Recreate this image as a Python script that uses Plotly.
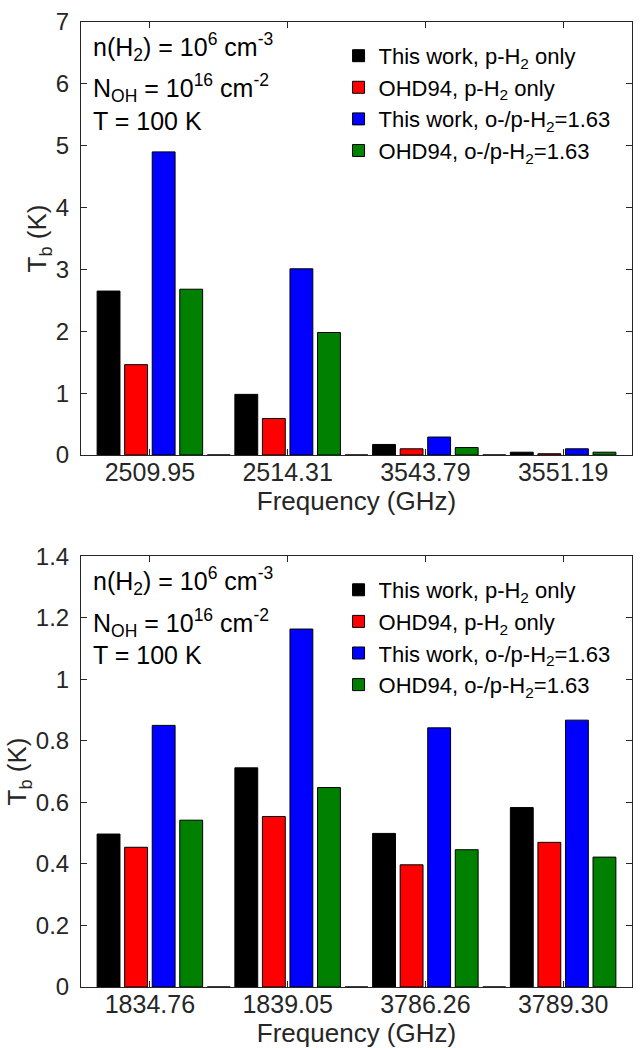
import plotly.graph_objects as go

# ---------------- data ----------------
series_names = [
    "This work, p-H<sub>2</sub> only",
    "OHD94, p-H<sub>2</sub> only",
    "This work, o-/p-H<sub>2</sub>=1.63",
    "OHD94, o-/p-H<sub>2</sub>=1.63",
]
series_colors = ["#000000", "#ff0000", "#0000ff", "#008000"]

top_freqs = ["2509.95", "2514.31", "3543.79", "3551.19"]
top_this_p = [2.65, 0.98, 0.17, 0.045]
top_ohd_p = [1.46, 0.59, 0.10, 0.02]
top_this_op = [4.90, 3.01, 0.29, 0.10]
top_ohd_op = [2.68, 1.98, 0.12, 0.045]

bot_freqs = ["1834.76", "1839.05", "3786.26", "3789.30"]
bot_this_p = [0.497, 0.712, 0.499, 0.583]
bot_ohd_p = [0.454, 0.554, 0.397, 0.470]
bot_this_op = [0.850, 1.163, 0.842, 0.867]
bot_ohd_op = [0.542, 0.648, 0.446, 0.422]

gap_values = [0, 0, 0]  # empty separator slot between groups

top_series = [top_this_p, top_ohd_p, top_this_op, top_ohd_op]
bot_series = [bot_this_p, bot_ohd_p, bot_this_op, bot_ohd_op]

# ---------------- layout geometry ----------------
W, H = 642, 1048
ML, MR, MT, MB = 80.7, 8.7, 14.0, 60.7
PW = W - ML - MR
PH = H - MT - MB


def py(ypix):
    """pixel y (from top) -> paper fraction"""
    return (H - MB - ypix) / PH


def px(xpix):
    return (xpix - ML) / PW


top_dom = [py(450.7), py(14.0)]
bot_dom = [py(987.3), py(552.7)]

SLOTS = 5
FONT = "Liberation Sans, Arial, Helvetica, sans-serif"
AXC = "#262626"

fig = go.Figure()


def add_panel(series, freqs, xa, ya, legend_id):
    for j, (vals, name, col) in enumerate(zip(series, series_names, series_colors)):
        fig.add_trace(go.Bar(
            x=[i * SLOTS + j for i in range(len(vals))],
            y=vals,
            name=name,
            width=0.83,
            marker=dict(color=col, line=dict(color="#000000", width=1)),
            xaxis=xa, yaxis=ya,
            legend=legend_id,
        ))
    fig.add_trace(go.Bar(
        x=[i * SLOTS + 4 for i in range(len(gap_values))],
        y=gap_values,
        width=0.83,
        marker=dict(color="#ffffff", line=dict(color="#000000", width=1)),
        xaxis=xa, yaxis=ya,
        showlegend=False, hoverinfo="skip",
    ))


add_panel(top_series, top_freqs, "x", "y", "legend")
add_panel(bot_series, bot_freqs, "x2", "y2", "legend2")

xcommon = dict(
    range=[-1, 19], showline=True, linecolor=AXC, linewidth=1, mirror="ticks",
    ticks="inside", ticklen=6, tickcolor=AXC, tickwidth=1,
    tickfont=dict(family=FONT, size=25, color=AXC),
    showgrid=False, zeroline=False, ticklabelstandoff=-5,
    title=dict(text="Frequency (GHz)", font=dict(family=FONT, size=26, color=AXC), standoff=0),
)
ycommon = dict(
    showline=True, linecolor=AXC, linewidth=1, mirror="ticks",
    ticks="inside", ticklen=6, tickcolor=AXC, tickwidth=1,
    tickfont=dict(family=FONT, size=24, color=AXC),
    showgrid=False, zeroline=False, ticklabelstandoff=6,
    title=dict(text="T<sub>b</sub> (K)", font=dict(family=FONT, size=26, color=AXC), standoff=0),
)

tickpos = [i * SLOTS + 1.5 for i in range(4)]

fig.update_layout(
    width=W, height=H,
    margin=dict(l=ML, r=MR, t=MT, b=MB),
    plot_bgcolor="white", paper_bgcolor="white",
    barmode="overlay",
    xaxis=dict(xcommon, domain=[0, 1], anchor="y", tickvals=tickpos, ticktext=top_freqs),
    yaxis=dict(ycommon, domain=top_dom, anchor="x", range=[0, 7], dtick=1),
    xaxis2=dict(xcommon, domain=[0, 1], anchor="y2", tickvals=tickpos, ticktext=bot_freqs),
    yaxis2=dict(ycommon, domain=bot_dom, anchor="x2", range=[0, 1.4], dtick=0.2),
    legend=dict(x=px(339), y=py(27), xanchor="left", yanchor="top",
                bgcolor="rgba(0,0,0,0)", font=dict(family=FONT, size=22, color="#000000"),
                tracegroupgap=0),
    legend2=dict(x=px(339), y=py(27 + 538.7), xanchor="left", yanchor="top",
                 bgcolor="rgba(0,0,0,0)", font=dict(family=FONT, size=22, color="#000000"),
                 tracegroupgap=0),
)

info_lines = [
    ("n(H<sub>2</sub>) = 10<sup>6</sup> cm<sup>-3</sup>", 39.0),
    ("N<sub>OH</sub> = 10<sup>16</sup> cm<sup>-2</sup>", 81.0),
    ("T = 100 K", 114.0),
]
for offset in (0.0, 538.7):
    for text, yc in info_lines:
        fig.add_annotation(
            text=text, xref="paper", yref="paper",
            x=px(91), y=py(yc + offset), xanchor="left", yanchor="middle",
            showarrow=False, font=dict(family=FONT, size=25, color="#000000"),
        )

fig.write_html("out.html")
